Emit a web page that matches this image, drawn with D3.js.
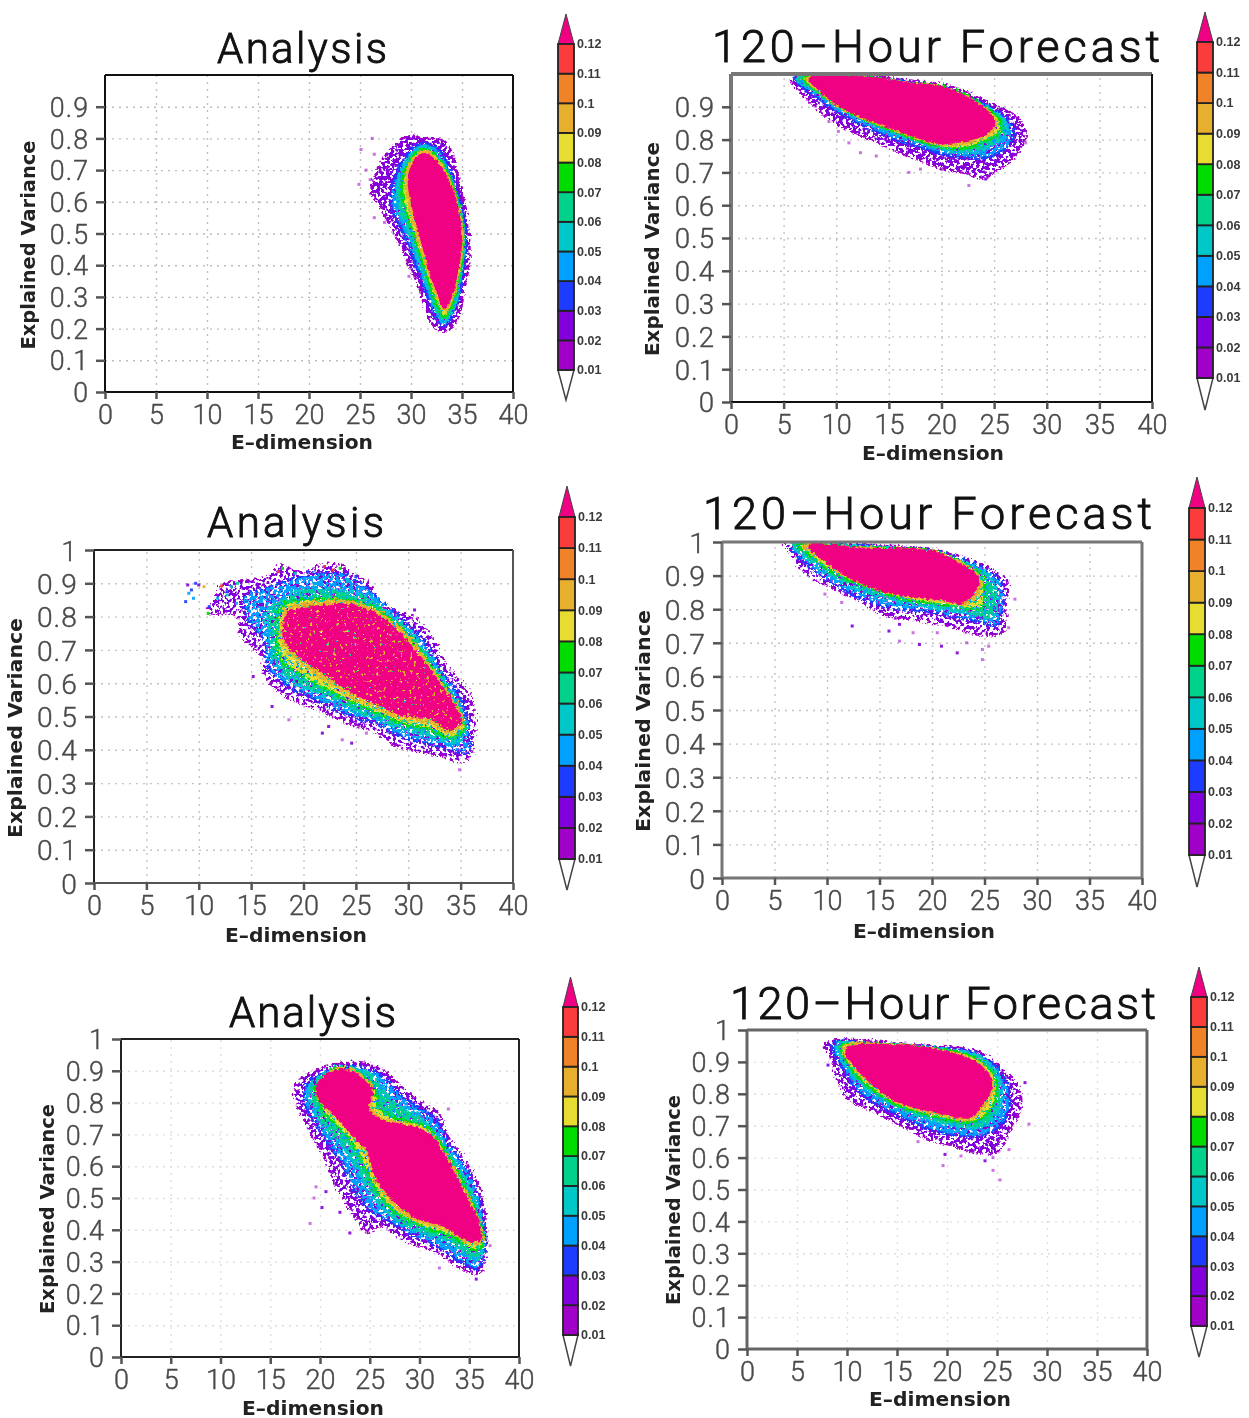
<!DOCTYPE html>
<html>
<head>
<meta charset="utf-8">
<script src="https://cdn.jsdelivr.net/npm/d3@7"></script>
<style>
  html, body { margin: 0; padding: 0; background: #fff; }
  svg { display: block; filter: blur(0.7px); }
</style>
</head>
<body>
<svg id="chart" width="1249" height="1418"></svg>
<script>
// density levels and the colours of the colour bar
const barLevels = [0.01, 0.02, 0.03, 0.04, 0.05, 0.06, 0.07, 0.08, 0.09, 0.1, 0.11, 0.12];
const barColors = ["#a000c8", "#8200dc", "#1e3cff", "#00a0ff", "#00c8c8", "#00d28c", "#00dc00", "#e6dc32", "#e6af2d", "#f08228", "#fa3c3c"];
const coreColor = "#f00082";
const ringLevels = [0.01, 0.03, 0.05, 0.07, 0.09, 0.12];

const xTicks = [0, 5, 10, 15, 20, 25, 30, 35, 40];
const yTicksShort = [0, 0.1, 0.2, 0.3, 0.4, 0.5, 0.6, 0.7, 0.8, 0.9];
const yTicksLong = [0, 0.1, 0.2, 0.3, 0.4, 0.5, 0.6, 0.7, 0.8, 0.9, 1];

// contours: one ring per entry of ringLevels, [E-dimension, explained variance]
const ringsA1 = [
  [[30,.81],[31,.80],[33.3,.79],[34.2,.73],[34.8,.65],[35.4,.57],[35.7,.48],[35.7,.40],[35.2,.32],[34.8,.25],[34.2,.21],[33.2,.19],[32.1,.21],[31.3,.27],[30.8,.33],[29.8,.40],[29,.46],[27.9,.53],[26.8,.59],[26.1,.63],[26.7,.70],[27.6,.75],[28.8,.79]],
  [[30.4,.775],[31.2,.785],[32.6,.77],[33.6,.72],[34.5,.64],[35.2,.55],[35.4,.46],[35.1,.37],[34.5,.28],[33.9,.23],[33.2,.205],[32.4,.235],[31.6,.30],[30.8,.37],[30,.44],[29.1,.51],[28.2,.57],[28,.62],[28.6,.69],[29.4,.74]],
  [[30.7,.765],[31.3,.775],[32.5,.75],[33.5,.70],[34.4,.62],[35,.54],[35.2,.45],[34.9,.37],[34.4,.28],[33.7,.235],[33.2,.22],[32.6,.25],[31.8,.315],[31,.39],[30.2,.46],[29.4,.53],[28.7,.58],[28.6,.63],[29,.69],[29.8,.74]],
  [[31.2,.765],[32.5,.745],[33.5,.695],[34.5,.615],[35,.535],[35.1,.45],[34.8,.375],[34.3,.30],[33.6,.245],[33.2,.235],[32.6,.27],[31.9,.33],[31.2,.40],[30.4,.48],[29.7,.55],[29.2,.61],[29.2,.67],[29.7,.72],[30.4,.75]],
  [[31.2,.76],[32.5,.735],[33.5,.685],[34.4,.61],[34.95,.53],[35,.45],[34.7,.38],[34.2,.31],[33.4,.255],[32.7,.29],[32,.35],[31.3,.42],[30.5,.50],[29.9,.58],[29.5,.65],[29.9,.72]],
  [[31.2,.75],[32.5,.725],[33.5,.675],[34.3,.61],[34.8,.53],[34.85,.45],[34.5,.38],[34,.31],[33.3,.265],[32.7,.31],[32,.37],[31.4,.44],[30.7,.52],[30.1,.60],[29.8,.66],[30.2,.72]]
];
const ringsF1 = [
  [[5.7,.985],[8,.998],[13,.995],[17,.98],[20.5,.965],[23,.935],[25,.905],[26.7,.88],[27.6,.85],[28,.81],[27.5,.77],[26.5,.73],[25,.70],[24,.68],[22,.70],[20,.71],[18,.735],[16,.76],[13.5,.795],[11,.83],[9,.87],[7,.93]],
  [[6,.985],[8,.995],[13,.99],[17,.975],[20.5,.955],[23,.925],[25,.89],[26.3,.86],[26.9,.82],[26.2,.775],[24.5,.745],[22,.745],[20,.755],[18,.775],[15.5,.80],[13,.835],[10.5,.875],[8,.93]],
  [[6.2,.985],[8,.995],[13,.988],[17,.972],[20.5,.952],[23,.92],[25,.885],[26,.855],[26.2,.82],[25.3,.79],[23.5,.765],[21.5,.76],[19.5,.775],[17.5,.795],[15,.825],[12.5,.86],[10,.90],[8,.945]],
  [[6.8,.985],[13,.988],[17,.972],[20.3,.96],[22.5,.935],[24.5,.89],[25.5,.86],[25.6,.825],[24.5,.80],[22.5,.775],[20,.775],[18,.795],[15.5,.825],[13,.855],[10.5,.895],[8.5,.94]],
  [[7.2,.985],[14,.985],[17,.97],[20,.96],[22,.935],[24,.895],[25.2,.855],[24.6,.815],[22.5,.79],[20,.785],[17.5,.805],[15,.835],[12.5,.865],[10,.905],[8.2,.95]],
  [[7.5,.985],[14,.985],[17,.97],[20,.96],[22,.935],[24,.895],[25,.855],[24.3,.82],[22.5,.80],[20,.79],[17.5,.81],[15,.84],[12.5,.87],[10,.91],[8.5,.95]]
];
const ringsA2 = [
  [[17.8,.95],[20,.93],[22,.955],[24,.945],[25,.92],[26.5,.89],[27.2,.83],[30.3,.80],[32.2,.74],[33.7,.65],[35.9,.56],[36.3,.44],[35.9,.38],[35,.36],[33,.38],[31,.39],[28.7,.41],[26.9,.45],[23.9,.48],[21.2,.52],[18.2,.56],[16.3,.62],[15.9,.68],[14,.74],[13.7,.80],[11,.81],[11.6,.855],[12.2,.895],[14,.905],[16.7,.92]],
  [[17.8,.90],[20,.92],[22,.93],[24,.925],[26,.885],[28,.83],[30,.775],[32,.70],[33.5,.62],[35,.55],[35.8,.46],[35.7,.39],[34,.40],[31.5,.42],[29,.44],[27,.475],[24,.505],[21,.55],[18.5,.59],[16.5,.65],[16.3,.72],[14.8,.78],[14.5,.86],[16,.88]],
  [[18,.85],[20,.88],[23,.88],[26,.86],[28,.81],[30,.76],[32,.68],[33.5,.60],[35,.52],[35.6,.45],[34.5,.42],[32,.44],[29.5,.46],[27,.49],[24,.525],[21.5,.565],[19,.60],[17.2,.66],[16.8,.74],[16.5,.81]],
  [[18,.83],[21,.85],[24,.85],[27,.82],[29,.77],[31,.70],[33,.615],[34.8,.52],[35.4,.46],[34,.435],[32,.46],[29.5,.475],[27,.51],[24,.55],[21.5,.59],[19.5,.63],[17.8,.67],[17.5,.75]],
  [[18.3,.82],[21,.84],[24.2,.845],[27.3,.81],[29.3,.76],[31.2,.69],[33.1,.605],[34.7,.53],[35.2,.48],[34,.45],[32.2,.48],[29.5,.49],[27,.525],[24.2,.565],[22,.61],[19.7,.66],[18,.72]],
  [[18.6,.81],[21.2,.83],[24.2,.835],[27.2,.80],[29.1,.75],[31,.68],[32.9,.60],[34.4,.53],[35,.49],[34,.46],[32.2,.495],[29.5,.505],[26.9,.54],[24.2,.58],[22,.63],[19.7,.68],[18.2,.73]]
];
const ringsF2 = [
  [[6,.99],[7.9,1],[13.2,.99],[20.1,.975],[23.2,.95],[25.8,.915],[27.1,.885],[27.1,.805],[26.8,.73],[24.7,.72],[22.4,.74],[19.4,.76],[15.5,.78],[13.2,.82],[10.2,.865],[7.5,.915],[6.6,.965]],
  [[6.4,.99],[8,.998],[13,.988],[20,.972],[23.2,.945],[25.5,.91],[26.6,.875],[26.7,.80],[26.2,.75],[24.5,.76],[22,.775],[19.5,.79],[16.5,.80],[14,.82],[11,.865],[8.5,.92]],
  [[6.8,.99],[8,.998],[13,.986],[20,.97],[23,.94],[25.3,.90],[26,.87],[26.2,.80],[25.5,.77],[23.5,.785],[21,.80],[18.5,.81],[16,.825],[13.5,.85],[11,.885],[8.8,.93]],
  [[7.3,.99],[13,.984],[20,.97],[23,.937],[24.7,.90],[25,.86],[24.7,.805],[23.6,.80],[21.5,.81],[18.8,.82],[16,.84],[13.5,.87],[11,.90],[9,.945]],
  [[7.8,.99],[13,.982],[20,.97],[22.9,.935],[24.4,.895],[24.5,.855],[23.4,.815],[21.5,.82],[18,.835],[15,.855],[12,.895],[9.5,.945]],
  [[8.3,.99],[13.2,.98],[20.1,.97],[22.8,.93],[24.3,.895],[24.1,.855],[22.8,.82],[20.9,.83],[17.8,.84],[14.8,.86],[11.7,.905],[9.4,.955]]
];
const ringsA3 = [
  [[17.5,.845],[18.1,.875],[21.6,.92],[24.8,.92],[26.8,.89],[28.4,.84],[30.6,.79],[32,.76],[32.8,.695],[34.7,.61],[36.3,.505],[36.7,.37],[36.5,.30],[35.9,.26],[34.3,.275],[31.5,.33],[28.8,.36],[26,.41],[24.8,.39],[23.2,.455],[21.6,.535],[20.4,.63],[19.2,.695],[17.6,.80]],
  [[18.5,.85],[21.5,.905],[24.8,.905],[26.5,.875],[28,.825],[30.3,.775],[31.8,.74],[33,.67],[35,.58],[36.2,.47],[36.6,.36],[36.2,.29],[35.7,.275],[34,.30],[31.5,.35],[29,.385],[27,.425],[25,.46],[23.5,.52],[22.3,.60],[21,.66],[19.8,.72],[18.5,.79]],
  [[19,.85],[21.6,.91],[24.8,.895],[26,.86],[27.5,.80],[30,.755],[31.5,.71],[33,.64],[34.8,.55],[36,.45],[36.4,.36],[36,.305],[35,.31],[33,.36],[30.5,.385],[28,.42],[26.2,.47],[24.8,.53],[23.5,.60],[22,.67],[20.5,.72],[19.3,.78]],
  [[19.6,.84],[21.6,.905],[24,.885],[25.5,.84],[26,.78],[28,.745],[30.2,.73],[31.4,.70],[33,.625],[34.6,.53],[36,.43],[36.3,.35],[35.5,.335],[33.5,.375],[30.5,.405],[28.2,.44],[26.4,.49],[25,.56],[24,.63],[22.5,.70],[21,.745],[20,.79]],
  [[19.8,.83],[21.6,.905],[23.7,.895],[25.3,.84],[25.2,.78],[26.2,.75],[28,.735],[30,.72],[31.2,.70],[32.9,.62],[34.5,.525],[36,.42],[36.2,.36],[35,.355],[32.8,.40],[30,.425],[28.2,.455],[26.6,.505],[25.3,.575],[24.5,.65],[23.4,.695],[21.8,.75],[20.6,.79]],
  [[20,.865],[21.6,.90],[23.6,.89],[25.2,.835],[24.8,.78],[26,.745],[28,.73],[30,.715],[31.1,.695],[32.7,.62],[34.3,.525],[35.9,.42],[36.1,.37],[34.7,.37],[32.7,.41],[30,.435],[28.4,.465],[26.8,.515],[25.6,.57],[24.8,.65],[23.6,.69],[22,.745],[20.8,.78],[19.8,.82]]
];
const ringsF3 = [
  [[7.7,.953],[8.9,.968],[11.3,.968],[17.8,.95],[22.6,.937],[24.6,.905],[25.8,.868],[27,.83],[27.4,.76],[26.2,.68],[25,.615],[22.6,.615],[20.6,.635],[18.2,.655],[15.3,.70],[12.9,.74],[10.1,.783],[8.9,.853],[8.3,.917]],
  [[8.5,.95],[9.2,.965],[11.3,.96],[17.8,.945],[22.6,.93],[24.4,.90],[25.5,.86],[26.2,.81],[26.2,.75],[25,.69],[23,.665],[20.5,.67],[18,.69],[15.5,.725],[13,.765],[11,.81],[9.5,.88]],
  [[9,.955],[11.3,.958],[17.8,.945],[22.5,.925],[24.2,.895],[25.2,.85],[25.5,.80],[25,.74],[23.5,.695],[21.5,.695],[19,.71],[16.5,.735],[14,.77],[12,.815],[10,.88]],
  [[9.4,.95],[11,.955],[17.8,.944],[22,.922],[23.9,.89],[24.9,.84],[24.9,.79],[24,.735],[22.3,.71],[19.8,.72],[17.3,.74],[14.9,.765],[12.4,.815],[10.6,.87]],
  [[9.7,.95],[12.9,.955],[17.8,.943],[21.6,.92],[23.6,.887],[24.6,.835],[23.9,.765],[22.2,.718],[19.8,.73],[17.3,.748],[14.9,.773],[12.5,.825],[10.7,.88]],
  [[10.3,.947],[12.9,.953],[17.8,.943],[21.4,.917],[23.4,.885],[24.4,.83],[23.6,.77],[22.2,.727],[19.8,.738],[17.3,.755],[14.9,.78],[12.5,.833],[10.9,.885],[9.9,.927]]
];

// loose cells outside the contours: [E-dimension, explained variance, density]
const specksA1 = [[25.1,.765,.01],[26.2,.80,.01],[24.9,.655,.01],[26,.67,.01],[26.4,.75,.01],[27,.70,.01],[26.4,.55,.01],[27.4,.535,.01],[29.8,.365,.01],[25.6,.70,.01]];
const specksF1 = [[11.2,.79,.01],[12.3,.76,.01],[13.8,.75,.01],[16.9,.70,.01],[18,.71,.01],[20,.71,.01],[22.6,.66,.01],[24.2,.68,.02],[28,.79,.01],[9.3,.855,.01],[10.2,.825,.01],[21.9,.70,.01]];
const specksA2 = [[18.6,.49,.01],[17,.53,.02],[21.8,.45,.02],[22.4,.47,.02],[23.7,.43,.01],[24.6,.42,.02],[26,.45,.01],[15.2,.62,.02],[30.6,.82,.02],[34.9,.34,.01],
  [8.75,.845,.03],[9.05,.87,.04],[8.95,.895,.02],[9.7,.90,.03],[10.5,.89,.09],[9.5,.855,.04],[9.3,.88,.03],[10,.895,.02],[12.2,.892,.11],[13.1,.89,.05],[13.7,.90,.06],[12.7,.875,.03],[10.9,.81,.07],[11,.83,.03],[11.8,.855,.04],[12.7,.865,.05],[13.6,.84,.04],
  [18,.945,.07],[17.6,.935,.11],[19.2,.93,.05],[20.4,.935,.03],[22,.95,.11],[23.5,.945,.07],[25,.92,.03],[22.8,.94,.11],[24.2,.91,.05]];
const specksF2 = [[12.4,.75,.02],[15.9,.735,.02],[16.9,.755,.02],[16.9,.705,.01],[18.8,.695,.02],[20.9,.69,.02],[22.4,.67,.02],[24.8,.65,.01],[24.8,.68,.01],[25.4,.69,.01],[27.9,.83,.01],[27.3,.745,.01],[11.4,.82,.01],[9.8,.845,.01],[23.3,.70,.01],[20.5,.73,.01],[18.2,.73,.01]];
const specksA3 = [[19.4,.50,.01],[19.6,.535,.01],[20.2,.47,.02],[19,.42,.01],[22,.455,.02],[23,.39,.02],[24.8,.395,.01],[32.9,.78,.01],[32,.28,.01],[35.7,.245,.02],[37.1,.35,.01],[20.6,.52,.02]];
const specksF3 = [[8.1,.89,.02],[27.8,.835,.02],[28.2,.705,.01],[19.8,.61,.02],[19.6,.575,.01],[23.8,.59,.02],[24.6,.56,.01],[25.3,.53,.01],[17.1,.65,.01],[22.6,.62,.02],[21.4,.605,.01],[26.2,.625,.01],[24.6,.60,.01]];

// page layout: frame in pixels, colour bar, labels
const panels = [
  { title: "Analysis", rings: ringsA1, specks: specksA1, yTicks: yTicksShort, box: [105, 513, 75, 392], rough: 5, holes: 0.42, coreHoles: null, gridColor: "#bdbdbd",
    titleBox: [217, 387, 63, 42], xLab: [302, 449], yLab: [28, 245], ylen: 209, bar: [558, 574, 44, 370, 14, 400], edge: ["#111", 2, "#111", 2] },
  { title: "120–Hour Forecast", rings: ringsF1, specks: specksF1, yTicks: yTicksShort, box: [731, 1152, 74, 402], rough: 6, holes: 0.44, coreHoles: null, gridColor: "#c4c4c4",
    titleBox: [712, 1160, 62, 45], xLab: [933, 460], yLab: [652, 249], ylen: 214, bar: [1197, 1213, 42, 378, 12, 410], edge: ["#777", 4, "#111", 2] },
  { title: "Analysis", rings: ringsA2, specks: specksA2, yTicks: yTicksLong, box: [94, 513, 550, 883], rough: 10, holes: 0.48, coreHoles: 0.29, gridColor: "#c4c4c4",
    titleBox: [207, 384, 537, 42], xLab: [296, 942], yLab: [15, 728], ylen: 220, bar: [559, 575, 517, 859, 486, 890], edge: ["#222", 2, "#555", 2] },
  { title: "120–Hour Forecast", rings: ringsF2, specks: specksF2, yTicks: yTicksLong, box: [722, 1142, 542, 878], rough: 8, holes: 0.48, coreHoles: null, gridColor: "#c4c4c4",
    titleBox: [703, 1152, 529, 45], xLab: [924, 938], yLab: [643, 721], ylen: 222, bar: [1189, 1205, 508, 855, 477, 887], edge: ["#777", 3, "#777", 3] },
  { title: "Analysis", rings: ringsA3, specks: specksA3, yTicks: yTicksLong, box: [121, 519, 1039, 1357], rough: 8, holes: 0.46, coreHoles: null, gridColor: "#dedede",
    titleBox: [229, 396, 1027, 42], xLab: [313, 1415], yLab: [47, 1209], ylen: 210, bar: [563, 578, 1007, 1335, 977, 1366], edge: ["#222", 2, "#222", 2] },
  { title: "120–Hour Forecast", rings: ringsF3, specks: specksF3, yTicks: yTicksLong, box: [747, 1147, 1030, 1349], rough: 6, holes: 0.45, coreHoles: null, gridColor: "#dedede",
    titleBox: [730, 1156, 1019, 45], xLab: [940, 1406], yLab: [673, 1200], ylen: 210, bar: [1191, 1207, 997, 1326, 967, 1357], edge: ["#666", 3, "#666", 3] }
];

const thin = "Roboto, 'Liberation Sans', sans-serif";
const heavy = "'DejaVu Sans', sans-serif";

const svg = d3.select("#chart");
const defs = svg.append("defs");
const ringColor = d3.scaleThreshold().domain(barLevels.slice(1)).range(barColors.concat(coreColor));
const contourLine = d3.line().curve(d3.curveCatmullRomClosed.alpha(0.5));

// grain: jagged edge, and small gaps in the rings
function addGrain(id, seed, rough, holes) {
  const f = defs.append("filter").attr("id", id)
    .attr("x", "-15%").attr("y", "-15%").attr("width", "130%").attr("height", "130%")
    .attr("color-interpolation-filters", "sRGB");
  f.append("feTurbulence").attr("type", "fractalNoise").attr("baseFrequency", 0.3).attr("numOctaves", 2).attr("seed", seed).attr("result", "n");
  f.append("feDisplacementMap").attr("in", "SourceGraphic").attr("in2", "n").attr("scale", rough)
    .attr("xChannelSelector", "R").attr("yChannelSelector", "G").attr("result", "d");
  if (holes === null) return;
  f.append("feColorMatrix").attr("in", "n").attr("type", "matrix")
    .attr("values", `0 0 0 0 0  0 0 0 0 0  0 0 0 0 0  0 18 0 0 ${-18 * holes}`).attr("result", "m");
  f.append("feComposite").attr("in", "d").attr("in2", "m").attr("operator", "in");
}

panels.forEach((p, i) => {
  const [left, right, top, bottom] = p.box;
  const x = d3.scaleLinear().domain([0, 40]).range([left, right]);
  const y = d3.scaleLinear().domain([0, 1]).range([bottom, top]);
  const g = svg.append("g");

  // grille pointillee
  const grid = g.append("g").attr("class", "grid");
  grid.append("g").attr("transform", `translate(0,${bottom})`)
    .call(d3.axisBottom(x).tickValues(xTicks.slice(1, -1)).tickSize(top - bottom).tickFormat(""));
  grid.append("g").attr("transform", `translate(${left},0)`)
    .call(d3.axisLeft(y).tickValues(p.yTicks.filter(v => v > 0 && v < 1)).tickSize(left - right).tickFormat(""));
  grid.selectAll(".domain").remove();
  grid.selectAll("line").attr("stroke", p.gridColor).attr("stroke-width", 1.4).attr("stroke-dasharray", "2 5");

  defs.append("clipPath").attr("id", `plot${i}`).append("rect")
    .attr("x", left).attr("y", top).attr("width", right - left).attr("height", bottom - top);

  const blob = g.append("g").attr("clip-path", `url(#plot${i})`);
  const last = ringLevels.length - 1;
  p.rings.forEach((r, k) => {
    const id = `grain${i}_${k}`;
    // the inner rings keep fewer gaps than the outer ones
    const holes = k === last ? p.coreHoles : (k === 0 ? p.holes : p.holes - 0.02 - k * 0.012);
    addGrain(id, 3 + i * 7 + k * 11, k === last ? p.rough * 0.7 : p.rough, holes);
    blob.append("path")
      .attr("d", contourLine(r.map(d => [x(d[0]), y(d[1])])))
      .attr("fill", k === last ? coreColor : ringColor(ringLevels[k] + 0.01))
      .attr("stroke", k === last ? coreColor : ringColor(ringLevels[k]))
      .attr("stroke-width", 2.5)
      .attr("filter", `url(#${id})`);
  });
  g.append("g").attr("clip-path", `url(#plot${i})`).selectAll("rect").data(p.specks).join("rect")
    .attr("x", d => x(d[0]) - 1.5).attr("y", d => y(d[1]) - 1.5)
    .attr("width", 3).attr("height", 3)
    .attr("fill", d => ringColor(d[2]))
    .attr("opacity", d => d[2] < 0.02 ? 0.55 : 0.9);

  // cadre et axes
  const [edgeA, wA, edgeB, wB] = p.edge;
  const frame = g.append("g").attr("class", "frame");
  frame.append("line").attr("x1", left).attr("x2", right).attr("y1", top).attr("y2", top).attr("stroke", edgeA).attr("stroke-width", wA);
  frame.append("line").attr("x1", left).attr("x2", left).attr("y1", top).attr("y2", bottom).attr("stroke", edgeA).attr("stroke-width", wA);
  frame.append("line").attr("x1", right).attr("x2", right).attr("y1", top).attr("y2", bottom).attr("stroke", edgeB).attr("stroke-width", wB);
  frame.append("line").attr("x1", left).attr("x2", right).attr("y1", bottom).attr("y2", bottom).attr("stroke", edgeB).attr("stroke-width", wB);

  const xAxis = g.append("g").attr("transform", `translate(0,${bottom})`)
    .call(d3.axisBottom(x).tickValues(xTicks).tickSize(7).tickPadding(6).tickFormat(String));
  const yAxis = g.append("g").attr("transform", `translate(${left},0)`)
    .call(d3.axisLeft(y).tickValues(p.yTicks).tickSize(9).tickPadding(7).tickFormat(String));
  [xAxis, yAxis].forEach(a => {
    a.select(".domain").remove();
    a.selectAll("line").attr("stroke", "#555").attr("stroke-width", 2.5);
    a.selectAll("text").attr("fill", "#4a4a4a").attr("stroke", "#4a4a4a").attr("stroke-width", 0.4)
      .attr("font-family", thin).attr("font-weight", 300);
  });
  xAxis.selectAll("text").attr("font-size", 27);
  // labels stay one line box apart
  yAxis.selectAll("text").attr("font-size", Math.floor((bottom - top) / 10 / 1.18 * 10) / 10)
    .attr("letter-spacing", 1).attr("dy", "0.36em");

  // titres
  g.append("text").attr("x", p.titleBox[0]).attr("y", p.titleBox[2])
    .attr("font-family", thin).attr("font-weight", 300).attr("font-size", p.titleBox[3]).attr("fill", "#111")
    .attr("textLength", p.titleBox[1] - p.titleBox[0]).attr("lengthAdjust", "spacing")
    .attr("stroke", "#111").attr("stroke-width", 0.9)
    .text(p.title);
  g.append("text").attr("x", p.xLab[0]).attr("y", p.xLab[1]).attr("text-anchor", "middle")
    .attr("font-family", heavy).attr("font-weight", 700).attr("font-size", 19).attr("fill", "#222")
    .attr("textLength", 142).attr("lengthAdjust", "spacingAndGlyphs")
    .text("E–dimension");
  g.append("text").attr("transform", `translate(${p.yLab[0] + 7},${p.yLab[1]}) rotate(-90)`).attr("text-anchor", "middle")
    .attr("font-family", heavy).attr("font-weight", 700).attr("font-size", 19).attr("fill", "#222")
    .attr("textLength", p.ylen).attr("lengthAdjust", "spacingAndGlyphs")
    .text("Explained Variance");

  // barre de couleurs
  const [bl, br, bt, bb, tipUp, tipDown] = p.bar;
  const by = d3.scaleLinear().domain([0.12, 0.01]).range([bt, bb]);
  const bar = g.append("g");
  bar.append("path").attr("d", d3.line()([[bl, bt], [(bl + br) / 2, tipUp], [br, bt]]) + "Z").attr("fill", coreColor).attr("stroke", "#444").attr("stroke-width", 1);
  bar.append("path").attr("d", d3.line()([[bl, bb], [(bl + br) / 2, tipDown], [br, bb]]) + "Z").attr("fill", "#fff").attr("stroke", "#444").attr("stroke-width", 1.5);
  bar.selectAll("rect").data(barColors).join("rect")
    .attr("x", bl).attr("width", br - bl)
    .attr("y", (c, k) => by(barLevels[k + 1])).attr("height", (c, k) => by(barLevels[k]) - by(barLevels[k + 1]))
    .attr("fill", c => c).attr("stroke", "#222").attr("stroke-width", 1.8);
  bar.selectAll("text").data(barLevels).join("text")
    .attr("x", br + 3).attr("y", d => by(d)).attr("dy", "0.35em")
    .attr("font-family", "'Liberation Sans', sans-serif").attr("font-size", 12.5).attr("font-weight", 700).attr("fill", "#3a3a3a")
    .text(d => String(d));
});
</script>
</body>
</html>
